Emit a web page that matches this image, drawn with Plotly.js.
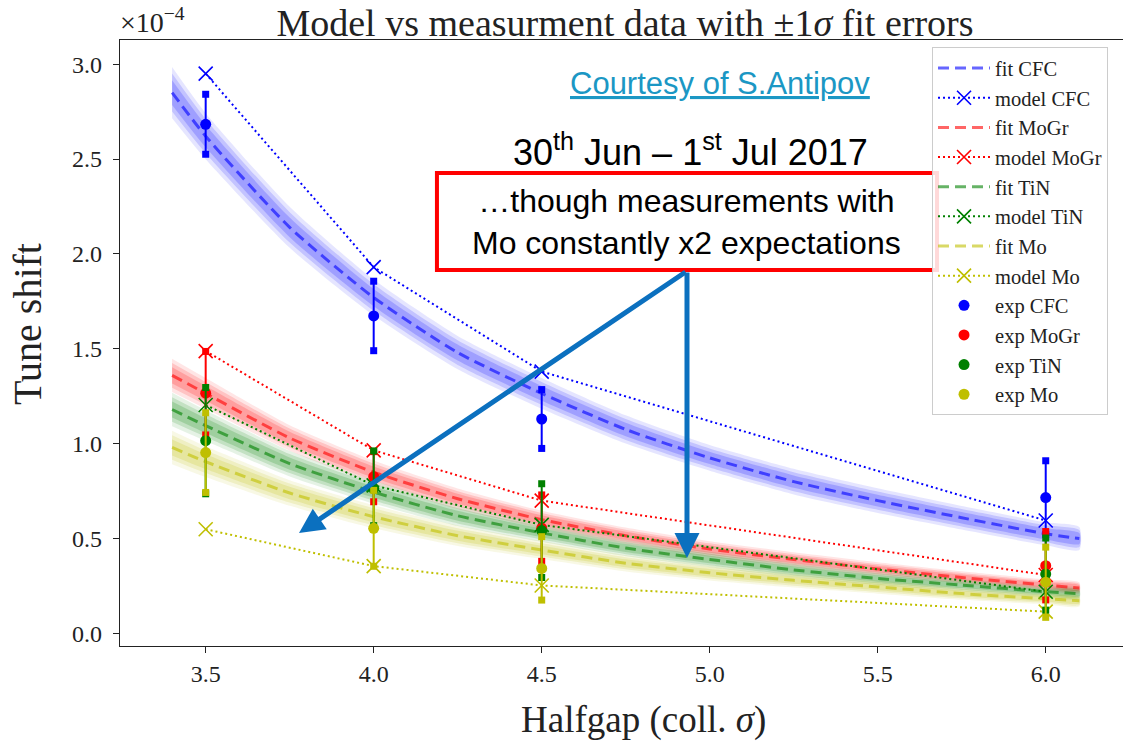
<!DOCTYPE html>
<html><head><meta charset="utf-8">
<script src="https://cdn.plot.ly/plotly-3.0.1.min.js"></script>
<style>html,body{margin:0;padding:0;background:#fff}#chart{width:1123px;height:744px}</style>
</head><body><div id="chart"></div>
<script>
// All tune-shift values are in units of 1e-4 (axis shows "x10^-4")
const halfgap = [3.5, 4.0, 4.5, 6.0];

const modelCFC  = [2.95, 1.93, 1.38, 0.595];
const modelMoGr = [1.488, 0.965, 0.70, 0.308];
const modelTiN  = [1.204, 0.78, 0.572, 0.22];
const modelMo   = [0.549, 0.355, 0.253, 0.115];

const expCFC  = [2.683, 1.673, 1.13, 0.716];
const errCFC  = [0.158, 0.183, 0.155, 0.194];
const expMoGr = [1.266, 0.826, 0.555, 0.357];
const errMoGr = [0.22, 0.132, 0.175, 0.18];
const expTiN  = [1.016, 0.765, 0.542, 0.313];
const errTiN  = [0.28, 0.197, 0.247, 0.19];
const expMo   = [0.953, 0.554, 0.343, 0.27];
const errMo   = [0.21, 0.20, 0.167, 0.185];

const fitX    = [3.4, 3.5, 3.75, 4.0, 4.25, 4.5, 4.75, 5.0, 5.25, 5.5, 5.75, 6.0, 6.1];
const fitCFC  = [2.85, 2.62, 2.14, 1.77, 1.48, 1.265, 1.075, 0.925, 0.80, 0.70, 0.61, 0.525, 0.50];
const sigCFC  = [0.10, 0.09, 0.08, 0.07, 0.065, 0.06, 0.055, 0.05, 0.05, 0.048, 0.046, 0.045, 0.045];
const fitMoGr = [1.36, 1.265, 1.03, 0.85, 0.71, 0.60, 0.515, 0.445, 0.39, 0.34, 0.295, 0.255, 0.24];
const sigMoGr = [0.065, 0.06, 0.05, 0.045, 0.04, 0.035, 0.032, 0.03, 0.028, 0.026, 0.024, 0.022, 0.022];
const fitTiN  = [1.18, 1.095, 0.895, 0.745, 0.62, 0.53, 0.45, 0.39, 0.335, 0.29, 0.255, 0.22, 0.21];
const sigTiN  = [0.065, 0.06, 0.05, 0.045, 0.04, 0.035, 0.032, 0.03, 0.028, 0.026, 0.024, 0.022, 0.022];
const fitMo   = [0.98, 0.905, 0.74, 0.615, 0.515, 0.44, 0.37, 0.32, 0.28, 0.245, 0.21, 0.183, 0.172];
const sigMo   = [0.065, 0.06, 0.05, 0.045, 0.04, 0.035, 0.032, 0.03, 0.028, 0.026, 0.024, 0.022, 0.022];

const materials = ['CFC', 'MoGr', 'TiN', 'Mo'];
const xTicks = [3.5, 4.0, 4.5, 5.0, 5.5, 6.0];
const yTicks = [0.0, 0.5, 1.0, 1.5, 2.0, 2.5, 3.0];

const mats = [
  {name:'CFC',  fit:fitCFC,  sig:sigCFC,  model:modelCFC,  exp:expCFC,  err:errCFC,  rgb:[0,0,255]},
  {name:'MoGr', fit:fitMoGr, sig:sigMoGr, model:modelMoGr, exp:expMoGr, err:errMoGr, rgb:[255,0,0]},
  {name:'TiN',  fit:fitTiN,  sig:sigTiN,  model:modelTiN,  exp:expTiN,  err:errTiN,  rgb:[0,128,0]},
  {name:'Mo',   fit:fitMo,   sig:sigMo,   model:modelMo,   exp:expMo,   err:errMo,   rgb:[191,191,0]}
];
const rgba = (c,a) => `rgba(${c[0]},${c[1]},${c[2]},${a})`;

const traces = [];
let rank = 1;
// bands (soft edged) first
mats.forEach(m => {
  [[1.35,0.10],[1.0,0.15],[0.65,0.18]].forEach(([k,a]) => {
    const up = m.fit.map((v,i)=>v + k*m.sig[i]);
    const lo = m.fit.map((v,i)=>v - k*m.sig[i]);
    traces.push({
      x: fitX.concat(fitX.slice().reverse()),
      y: up.concat(lo.slice().reverse()),
      type:'scatter', mode:'lines', fill:'toself',
      fillcolor: rgba(m.rgb, a), line:{width:0, color:'rgba(0,0,0,0)', shape:'spline', smoothing:0.6},
      showlegend:false, hoverinfo:'skip'
    });
  });
});
mats.forEach(m => {
  traces.push({
    x: fitX, y: m.fit, type:'scatter', mode:'lines', name:'fit ' + m.name,
    line:{color: rgba(m.rgb,0.6), width:3, dash:'11px,6px', shape:'spline', smoothing:0.6},
    legendrank: rank++
  });
  traces.push({
    x: halfgap, y: m.model, type:'scatter', mode:'lines+markers', name:'model ' + m.name,
    line:{color: rgba(m.rgb,1), width:2, dash:'2px,3px'},
    marker:{symbol:'x-thin-open', size:14, color: rgba(m.rgb,1), line:{width:1.6, color: rgba(m.rgb,1)}},
    legendrank: rank++
  });
});
mats.forEach(m => {
  const col = rgba(m.rgb,1);
  traces.push({
    x: halfgap, y: m.exp, type:'scatter', mode:'markers', name:'exp ' + m.name,
    marker:{symbol:'circle', size:11, color: col},
    error_y:{type:'data', array:m.err, visible:true, color:col, thickness:2, width:0},
    legendrank: rank++
  });
  traces.push({
    x: halfgap.concat(halfgap),
    y: m.exp.map((v,i)=>v+m.err[i]).concat(m.exp.map((v,i)=>v-m.err[i])),
    type:'scatter', mode:'markers', showlegend:false, hoverinfo:'skip',
    marker:{symbol:'square', size:7, color: col}
  });
});

const serif = 'Liberation Serif, Times New Roman, serif';
const sans = 'Liberation Sans, Arial, sans-serif';
const arrowCol = '#0b70bf';

const layout = {
  width:1123, height:744,
  margin:{l:120, r:0, t:40, b:98},
  paper_bgcolor:'#fff', plot_bgcolor:'#fff',
  font:{family:serif, color:'#222'},
  title:{text:'Model vs measurment data with ±1<i>σ</i> fit errors', font:{family:serif, size:38, color:'#222'},
         x:0.5035, xref:'paper', y:0.969, yref:'container', yanchor:'middle'},
  xaxis:{range:[3.245, 6.23], tickvals:xTicks, ticktext:xTicks.map(v=>v.toFixed(1)),
         showline:true, linecolor:'#222', linewidth:1.2, mirror:true, ticks:'outside', ticklen:6, tickcolor:'#222',
         showgrid:false, zeroline:false, tickfont:{family:serif, size:24, color:'#222'}, ticklabelstandoff:0},
  yaxis:{range:[-0.066, 3.127], tickvals:yTicks, ticktext:yTicks.map(v=>v.toFixed(1)),
         showline:true, linecolor:'#222', linewidth:1.2, mirror:true, ticks:'outside', ticklen:6, tickcolor:'#222',
         showgrid:false, zeroline:false, tickfont:{family:serif, size:24, color:'#222'}, ticklabelstandoff:6},
  legend:{x:0.8096, y:0.988, xanchor:'left', yanchor:'top', bgcolor:'rgba(255,255,255,0.85)',
          bordercolor:'#cccccc', borderwidth:1, font:{family:serif, size:20.5, color:'#222'}, itemwidth:52,
          tracegroupgap:0},
  shapes:[
    {type:'rect', xref:'paper', yref:'paper', x0:0.316, x1:0.8146, y0:0.6205, y1:0.7805,
     line:{color:'#ff0000', width:4}, fillcolor:'#ffffff', layer:'above'}
  ],
  annotations:[
    {text:'×10<sup>−4</sup>', xref:'paper', yref:'paper', x:-0.002, y:1.0, xanchor:'left', yanchor:'bottom',
     showarrow:false, font:{family:serif, size:28, color:'#222'}},
    {text:'Tune shift', xref:'paper', yref:'paper', x:-0.093, y:0.531, textangle:-90, showarrow:false,
     xanchor:'center', yanchor:'middle', font:{family:serif, size:40, color:'#222'}},
    {text:'Halfgap (coll. <i>σ</i>)', xref:'paper', yref:'paper', x:0.522, y:-0.122, showarrow:false,
     xanchor:'center', yanchor:'middle', font:{family:serif, size:37, color:'#222'}},
    {text:'<u>Courtesy of S.Antipov</u>', xref:'paper', yref:'paper', x:0.598, y:0.929, showarrow:false,
     xanchor:'center', yanchor:'middle', font:{family:sans, size:31, color:'#1b97c4'}},
    {text:'30<sup>th</sup> Jun – 1<sup>st</sup> Jul 2017', xref:'paper', yref:'paper', x:0.569, y:0.818, showarrow:false,
     xanchor:'center', yanchor:'middle', font:{family:sans, size:36, color:'#000'}},
    {text:'…though measurements with<br>Mo constantly x2 expectations', xref:'paper', yref:'paper', x:0.565, y:0.70,
     showarrow:false, xanchor:'center', yanchor:'middle', font:{family:sans, size:32, color:'#000'}},
    {text:'', xref:'paper', yref:'paper', x:0.1785, y:0.1865, ax:388, ay:-262, showarrow:true,
     arrowhead:2, arrowsize:1, arrowwidth:5, arrowcolor:arrowCol, standoff:0},
    {text:'', xref:'paper', yref:'paper', x:0.5653, y:0.1452, ax:0, ay:-287, showarrow:true,
     arrowhead:2, arrowsize:1, arrowwidth:5, arrowcolor:arrowCol, standoff:0}
  ]
};

Plotly.newPlot('chart', traces, layout, {displayModeBar:false, staticPlot:true});
</script>
</body></html>
